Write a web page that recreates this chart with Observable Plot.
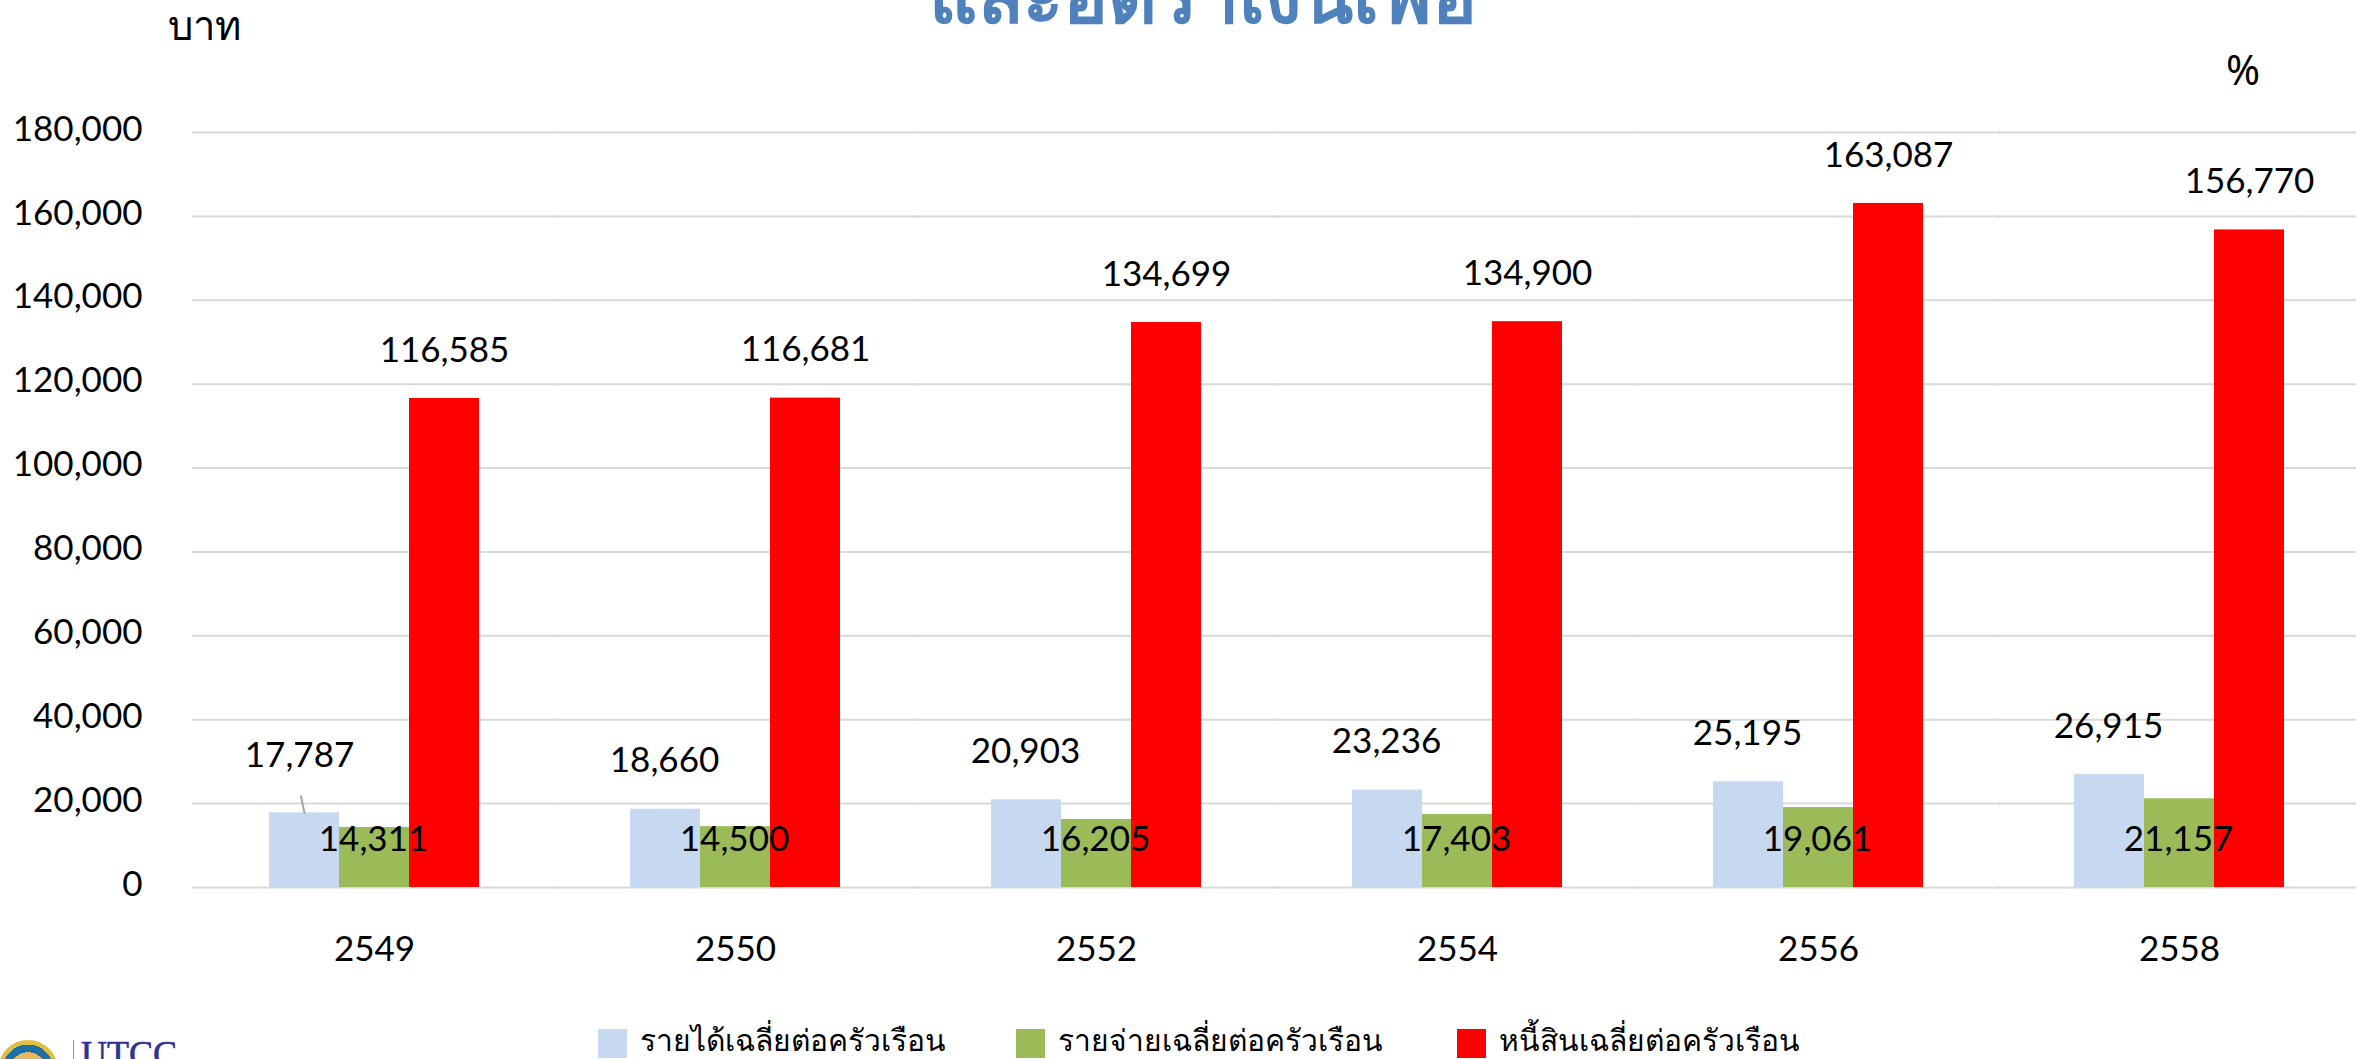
<!DOCTYPE html>
<html><head><meta charset="utf-8">
<script src="https://cdn.jsdelivr.net/npm/d3@7"></script>
<script src="https://cdn.jsdelivr.net/npm/@observablehq/plot@0.6"></script>
<style>
html,body{margin:0;padding:0;background:#fff;width:2356px;height:1059px;overflow:hidden;font-family:"Noto Sans",sans-serif;color:#000}
.a{position:absolute;white-space:nowrap}
#chart{position:absolute;left:0;top:0}
#title{left:1203px;top:-66px;transform:translateX(-50%);font-size:75px;font-weight:700;color:#4F81BD;line-height:120px}
#unit{left:168px;top:-1px;font-size:40px;line-height:52px}
#pct{left:2226px;top:49px;font-size:41px;line-height:40px}
.lg{top:1024px;font-size:30px;line-height:38px;display:flex;align-items:center;gap:13px}
.lg .t{position:relative;top:-3px}
.sw{width:29px;height:29px;display:inline-block}
#utcc{left:81px;top:1036px;font-family:"Liberation Serif",serif;font-size:36px;line-height:36px;color:#2E3192;-webkit-text-stroke:.6px #2E3192}
#bar{left:73px;top:1040px;width:1px;height:19px;background:#8a8fb0}
#seal{left:-2px;top:1040px;width:60px;height:60px;border-radius:50%;background:radial-gradient(circle,#E8B860 0 42%,#1F6FA8 42% 60%,#E0C040 60% 88%,#1A3A7A 88%)}
</style></head><body>
<div id="chart"></div>
<div class="a" id="title">และอัตราเงินเฟ้อ</div>
<div class="a" id="unit">บาท</div>
<div class="a" id="pct">%</div>
<div class="a" id="seal"></div>
<div class="a" id="bar"></div>
<div class="a" id="utcc">UTCC</div>
<div id="legend"></div>
<script>
const years = ["2549","2550","2552","2554","2556","2558"];
const seriesNames = ["รายได้เฉลี่ยต่อครัวเรือน","รายจ่ายเฉลี่ยต่อครัวเรือน","หนี้สินเฉลี่ยต่อครัวเรือน"];
const seriesColors = ["#C6D9F1","#9BBB59","#FF0000"];
const income = [17787,18660,20903,23236,25195,26915];
const expense = [14311,14500,16205,17403,19061,21157];
const debt = [116585,116681,134699,134900,163087,156770];
const yTicks = [0,20000,40000,60000,80000,100000,120000,140000,160000,180000];
const leaderTop = ["2549"];

const rows = [income,expense,debt].flatMap((vals,s)=>vals.map((v,i)=>({year:years[i],series:seriesNames[s],value:v})));
const incomeRows = rows.filter(d=>d.series===seriesNames[0]);
const expenseRows = rows.filter(d=>d.series===seriesNames[1]);
const debtRows = rows.filter(d=>d.series===seriesNames[2]);
const fmt = d3.format(",");
const font = {fontFamily:"Lato, 'Noto Sans', sans-serif"};
const textOpts = {fx:"year",x:"series",text:d=>fmt(d.value),fontSize:35,fill:"#000",...font};

const plot = Plot.plot({
  width:2356,height:1010,
  marginLeft:192,marginRight:0,marginTop:132,marginBottom:123,
  style:{background:"transparent",overflow:"visible",...font},
  fx:{domain:years,range:[192,2361],paddingInner:0.418,paddingOuter:0.209,label:null},
  x:{domain:seriesNames,padding:0,axis:null},
  y:{domain:[0,180000],label:null},
  color:{domain:seriesNames,range:seriesColors},
  marks:[
    Plot.ruleY(yTicks,{stroke:"#D9D9D9",strokeWidth:2,insetLeft:-77,insetRight:-77}),
    Plot.axisY({ticks:yTicks,tickSize:0,tickPadding:127,dy:-3,fontSize:35,label:null,tickFormat:fmt,...font}),
    Plot.axisFx({anchor:"bottom",tickSize:0,tickPadding:49,fontSize:35,label:null,...font}),
    Plot.barY(rows,{fx:"year",x:"series",y:"value",fill:"series"}),
    Plot.vector(incomeRows.filter(d=>leaderTop.includes(d.year)),{fx:"year",x:"series",y:"value",length:17,rotate:-12,anchor:"start",stroke:"#A6A6A6",strokeWidth:2,
      shape:{draw(c,l){c.moveTo(0,0);c.lineTo(0,-l);}}}),
    Plot.text(incomeRows.filter(d=>!leaderTop.includes(d.year)),{...textOpts,y:"value",dy:-48,dx:-1}),
    Plot.text(incomeRows.filter(d=>leaderTop.includes(d.year)),{...textOpts,y:"value",dy:-57,dx:-5}),
    Plot.text(expenseRows,{...textOpts,frameAnchor:"bottom",dy:-37,dx:-1}),
    Plot.text(debtRows,{...textOpts,y:"value",dy:-48})
  ]
});
document.getElementById("chart").append(plot);
const lgLefts=[598,1016,1457];
const lg=document.getElementById("legend");
seriesNames.forEach((n,i)=>{
  const e=document.createElement("div");e.className="a lg";e.style.left=lgLefts[i]+"px";
  const s=document.createElement("span");s.className="sw";s.style.background=seriesColors[i];
  const t=document.createElement("span");t.className="t";t.textContent=n;
  e.append(s,t);lg.append(e);
});
</script>
</body></html>
